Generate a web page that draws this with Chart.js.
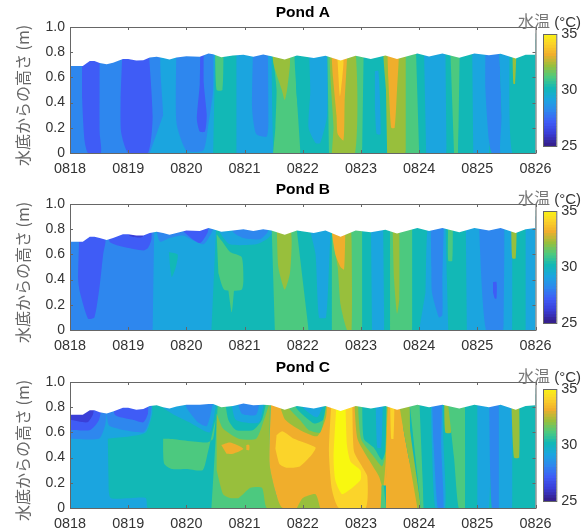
<!DOCTYPE html>
<html>
<head>
<meta charset="utf-8">
<title>Pond water temperature</title>
<script src="https://cdn.jsdelivr.net/npm/chart.js@4"></script>
<style>
    body { margin: 0; background: #fff; }
    canvas, .unit { position: absolute; }
    .unit { left: 518px; white-space: nowrap; color: #333; font: 15px "Liberation Sans", Arial, sans-serif; line-height: 18px; }
    .unit span { color: #777; font: 16px "Noto Sans CJK JP", sans-serif; line-height: 18px; }
</style>
</head>
<body>
<canvas id="mapA" width="565" height="175" style="left:0;top:0"></canvas>
<canvas id="mapB" width="565" height="175" style="left:0;top:177px"></canvas>
<canvas id="mapC" width="565" height="175" style="left:0;top:355px"></canvas>
<canvas id="barA" width="78" height="162" style="left:505px;top:0"></canvas>
<canvas id="barB" width="78" height="162" style="left:505px;top:177px"></canvas>
<canvas id="barC" width="78" height="162" style="left:505px;top:355px"></canvas>
<div class="unit" style="top:11px"><span>水温</span> (°C)</div>
<div class="unit" style="top:188px"><span>水温</span> (°C)</div>
<div class="unit" style="top:366px"><span>水温</span> (°C)</div>
<script>
// Tick labels
const dayLabels = ['0818', '0819', '0820', '0821', '0822', '0823', '0824', '0825', '0826'];
const heightLabels = { 0: '0', 0.2: '0.2', 0.4: '0.4', 0.6: '0.6', 0.8: '0.8', 1: '1.0' };
// One colour per degree, 25 to 35
const scaleColors = ['#35208f', '#3a3fd8', '#3f5cf6', '#2e87ee', '#1ba5df', '#12b8b6', '#4cc97f', '#98bf3c', '#f0ae2c', '#fbd42a', '#f8f810'];

// Water surface height (m), sampled at the same days for every pond
const surfaceDays = [0, .22, .34, .42, .51, .63, .74, .91, 1, 1.14, 1.26, 1.37, 1.49, 1.6, 1.71, 1.83, 2, 2.23, 2.38, 2.46, 2.6, 2.8, 2.98, 3.15, 3.32, 3.46, 3.69, 3.9, 4.19, 4.39, 4.65, 4.91, 5.17, 5.42, 5.62, 5.97, 6.17, 6.4, 6.69, 6.95, 7.2, 7.4, 7.66, 7.83, 8];
const surfaceA = [.69, .69, .73, .73, .715, .705, .716, .747, .747, .734, .737, .758, .763, .753, .742, .758, .768, .763, .79, .784, .76, .774, .779, .763, .782, .768, .742, .774, .753, .771, .734, .771, .747, .774, .747, .789, .766, .789, .755, .789, .776, .787, .75, .779, .779];
const surfaceB = [.7, .7, .74, .74, .73, .715, .73, .76, .76, .75, .75, .77, .78, .77, .755, .77, .79, .785, .81, .8, .78, .79, .8, .785, .8, .79, .755, .79, .77, .79, .74, .79, .775, .795, .765, .81, .785, .81, .775, .81, .79, .81, .77, .8, .81];
const surfaceC = [.74, .74, .775, .775, .76, .75, .765, .795, .795, .78, .785, .81, .815, .8, .79, .805, .82, .82, .825, .825, .8, .81, .83, .815, .82, .815, .78, .81, .79, .81, .77, .81, .79, .81, .78, .82, .8, .82, .79, .82, .8, .82, .78, .81, .815];

// Temperature bands: [degrees, [day, height, day, height, ...]], later ones lie on top
const bandsA = [
    [30, [0, 0, 8, 0, 8, .95, 0, .95]],
    [28, [0, 0, 1.6, 0, 1.6, .9, 0, .9]],
    [27, [.21, .9, .21, .42, .25, .1, .31, 0, .53, 0, .51, .16, .51, .9]],
    [27, [.91, .9, .87, .42, .88, .16, 1, 0, 1.34, 0, 1.42, .29, 1.34, .9]],
    [29, [1.37, 0, 2.55, 0, 2.55, .9, 1.6, .9, 1.6, .3]],
    [28, [1.83, .9, 1.83, .24, 2, .02, 2.29, .02, 2.37, .2, 2.46, .5, 2.46, .9]],
    [27, [2.24, .9, 2.23, .55, 2.18, .27, 2.23, .17, 2.32, .17, 2.35, .3, 2.3, .55, 2.3, .9]],
    [30, [2.46, 0, 2.88, 0, 2.88, .9, 2.5, .9]],
    [31, [2.49, .9, 2.52, .5, 2.62, .5, 2.64, .9]],
    [29, [2.86, 0, 3.5, 0, 3.46, .9, 2.86, .9]],
    [28, [3.15, .9, 3.13, .35, 3.2, .15, 3.38, .13, 3.41, .25, 3.4, .9]],
    [30, [3.46, .9, 3.5, 0, 3.6, 0, 3.6, .9]],
    [31, [3.49, 0, 3.96, 0, 3.89, .5, 3.89, .9, 3.5, .9, 3.55, .5, 3.53, .2]],
    [32, [3.46, .9, 3.5, .7, 3.64, .5, 3.69, .42, 3.73, .5, 3.78, .7, 3.78, .9]],
    [30, [3.96, 0, 4.5, 0, 4.48, .9, 3.89, .9, 3.89, .5]],
    [29, [4.1, .9, 4.13, .5, 4.1, .2, 4.22, .08, 4.3, .08, 4.42, .3, 4.42, .9]],
    [31, [4.45, 0, 5.05, 0, 5.05, .9, 4.42, .9]],
    [32, [4.5, 0, 4.9, 0, 4.88, .9, 4.48, .9, 4.53, .2]],
    [33, [4.48, .9, 4.52, .6, 4.58, .3, 4.6, .15, 4.7, .1, 4.72, .4, 4.76, .75, 4.76, .9]],
    [34, [4.58, .9, 4.6, .72, 4.64, .45, 4.68, .6, 4.7, .72, 4.68, .9]],
    [30, [5.02, 0, 5.45, 0, 5.42, .9, 5.05, .9]],
    [29, [5.24, .65, 5.3, .65, 5.34, .15, 5.27, .15, 5.24, .36]],
    [32, [5.45, 0, 5.77, 0, 5.77, .9, 5.4, .9, 5.43, .5]],
    [33, [5.45, .9, 5.47, .6, 5.52, .2, 5.58, .2, 5.62, .5, 5.65, .75, 5.65, .9]],
    [31, [5.77, 0, 6, 0, 5.94, .9, 5.77, .9]],
    [30, [6, 0, 6.12, 0, 6.08, .9, 5.94, .9]],
    [29, [6.12, 0, 6.47, 0, 6.45, .9, 6.08, .9]],
    [30, [6.47, 0, 6.6, 0, 6.55, .9, 6.45, .9]],
    [31, [6.6, 0, 6.67, 0, 6.7, .9, 6.53, .9]],
    [30, [6.67, 0, 6.93, 0, 6.91, .9, 6.7, .9]],
    [29, [6.93, 0, 7.2, 0, 7.14, .9, 6.91, .9]],
    [28, [7.14, .9, 7.14, .5, 7.2, .1, 7.25, 0, 7.4, 0, 7.42, .3, 7.37, .9]],
    [29, [7.37, .9, 7.42, .3, 7.4, 0, 7.6, 0, 7.55, .9]],
    [30, [7.55, .9, 7.6, 0, 8, 0, 8, .9]],
    [32, [7.6, .9, 7.62, .55, 7.65, .55, 7.68, .9]]
];

const bandsB = [
    [30, [0, 0, 8, 0, 8, .95, 0, .95]],
    [28, [0, 0, 1.42, 0, 1.45, .9, 0, .9]],
    [27, [.17, .9, .14, .4, .17, .3, .31, .09, .42, .1, .51, .35, .57, .6, .61, .7, .61, .9]],
    [27, [.68, .9, .68, .7, .91, .66, 1.26, .63, 1.34, .65, 1.4, .72, 1.4, .9]],
    [26, [1, .9, 1.02, .75, 1.25, .74, 1.27, .9]],
    [29, [1.42, 0, 2.5, 0, 2.52, .9, 1.45, .9]],
    [28, [1.49, .9, 1.49, .78, 1.55, .7, 1.71, .73, 1.94, .75, 2.29, .68, 2.46, .8, 2.46, .9]],
    [27, [1.94, .9, 1.94, .79, 2.23, .69, 2.37, .78, 2.37, .9]],
    [30, [1.7, .62, 1.85, .6, 1.82, .5, 1.75, .42, 1.72, .5]],
    [30, [2.43, 0, 3.52, 0, 3.46, .9, 2.52, .9]],
    [29, [2.57, .9, 2.57, .78, 2.75, .68, 3.2, .68, 3.38, .72, 3.49, .78, 3.49, .9]],
    [28, [2.8, .9, 2.8, .78, 2.98, .73, 3.26, .72, 3.4, .78, 3.4, .9]],
    [31, [2.52, .76, 2.62, .7, 2.75, .62, 2.95, .58, 2.98, .4, 2.95, .32, 2.65, .32, 2.55, .45]],
    [31, [2.72, .32, 2.78, .14, 2.82, .32]],
    [31, [3.52, 0, 4.1, 0, 3.87, .9, 3.46, .9]],
    [32, [3.55, .9, 3.58, .5, 3.69, .32, 3.78, .45, 3.81, .7, 3.78, .9]],
    [30, [4.1, 0, 4.5, 0, 4.5, .9, 3.87, .9]],
    [29, [4.07, .9, 4.13, .78, 4.22, .6, 4.28, .1, 4.4, .1, 4.46, .6, 4.48, .8, 4.48, .9]],
    [31, [4.5, 0, 5.02, 0, 5.02, .9, 4.5, .9]],
    [32, [4.5, .9, 4.5, .8, 4.6, .5, 4.65, .2, 4.76, 0, 4.84, 0, 4.84, .7, 4.82, .9]],
    [33, [4.5, .9, 4.5, .78, 4.56, .6, 4.65, .5, 4.71, .48, 4.73, .75, 4.73, .9]],
    [30, [5.02, 0, 5.19, 0, 5.19, .9, 5.02, .9]],
    [29, [5.19, 0, 5.4, 0, 5.38, .9, 5.17, .9]],
    [30, [5.4, 0, 5.5, 0, 5.5, .9, 5.38, .9]],
    [31, [5.5, 0, 5.88, 0, 5.88, .9, 5.5, .9]],
    [32, [5.54, .9, 5.57, .4, 5.62, .13, 5.66, .25, 5.66, .9]],
    [30, [5.88, 0, 6.55, 0, 6.55, .9, 5.88, .9]],
    [29, [6, 0, 6.54, 0, 6.48, .4, 6.45, .9, 6.17, .9, 6.11, .3]],
    [28, [6.2, .9, 6.21, .5, 6.22, .3, 6.34, .1, 6.4, .12, 6.4, .4, 6.43, .9]],
    [30, [6.5, 0, 6.82, 0, 6.8, .9, 6.45, .9]],
    [31, [6.5, .9, 6.5, .55, 6.57, .55, 6.58, .9]],
    [29, [6.82, 0, 7.15, 0, 7.02, .9, 6.8, .9]],
    [28, [7.02, .9, 7.15, 0, 7.45, 0, 7.47, .9]],
    [27, [7.27, .38, 7.33, .38, 7.33, .25, 7.3, .25, 7.27, .3]],
    [29, [7.45, 0, 7.6, 0, 7.6, .9, 7.47, .9]],
    [30, [7.6, 0, 7.83, 0, 7.83, .9, 7.6, .9]],
    [32, [7.58, .9, 7.6, .57, 7.66, .57, 7.68, .9]],
    [29, [7.83, 0, 8, 0, 8, .9, 7.83, .9]]
];

const bandsC = [
    [30, [0, 0, 8, 0, 8, .95, 0, .95]],
    [29, [0, 0, 1.34, 0, 1.34, .9, 0, .9]],
    [28, [0, .55, .5, .55, .6, .65, .63, .75, .63, .9, 0, .9]],
    [27, [0, .62, .35, .62, .5, .7, .55, .9, 0, .9]],
    [26, [0, .7, .3, .68, .4, .75, .4, .9, 0, .9]],
    [30, [.65, .55, 1.3, .6, 1.45, .82, 1.5, .9, 2.55, .9, 2.43, 0, 1.34, 0, 1.3, .08, .7, .08, .66, .25]],
    [28, [.63, .9, .63, .75, .68, .65, 1.26, .6, 1.37, .7, 1.43, .9]],
    [27, [.77, .9, .77, .74, 1.08, .7, 1.26, .68, 1.34, .75, 1.34, .9]],
    [29, [1.55, .9, 1.55, .82, 1.75, .75, 2.05, .68, 2.4, .6, 2.5, .8, 2.5, .9]],
    [28, [2, .9, 2, .8, 2.2, .68, 2.35, .65, 2.45, .82, 2.45, .9]],
    [31, [1.6, .55, 1.7, .55, 2.35, .52, 2.46, .55, 2.5, .7, 2.35, .4, 2.28, .3, 2, .31, 1.75, .31, 1.62, .35, 1.6, .45]],
    [31, [2.43, 0, 3.45, 0, 3.45, .9, 2.55, .9]],
    [32, [2.52, .75, 2.63, .63, 2.9, .55, 3.2, .55, 3.35, .72, 3.43, .82, 3.43, .35, 3.55, .1, 3.66, 0, 3.38, 0, 3.3, .16, 3.1, .16, 2.9, .08, 2.75, .08, 2.63, .11, 2.52, .3]],
    [30, [2.65, .9, 2.72, .7, 2.85, .62, 3.15, .62, 3.3, .7, 3.4, .9]],
    [29, [2.75, .9, 2.85, .7, 3.25, .68, 3.35, .9]],
    [28, [2.85, .9, 2.95, .75, 3.2, .74, 3.28, .9]],
    [33, [2.6, .5, 2.75, .52, 2.98, .47, 2.8, .43, 2.69, .43]],
    [33, [3.03, .5, 3.08, .5, 3.08, .46, 3.03, .46]],
    [33, [3.46, .9, 3.43, .35, 3.55, .1, 3.66, 0, 5.34, 0, 5.36, .18, 5.43, .18, 5.5, .9]],
    [32, [3.9, 0, 4, .08, 4.22, .11, 4.3, 0]],
    [34, [3.55, .58, 3.65, .61, 3.85, .55, 4.22, .48, 4.15, .42, 3.95, .33, 3.72, .32, 3.6, .35, 3.53, .47]],
    [32, [3.55, .9, 3.6, .82, 3.7, .7, 3.95, .62, 4.25, .57, 4.4, .72, 4.42, .9]],
    [31, [3.7, .9, 3.75, .8, 3.95, .7, 4.1, .62, 4.3, .6, 4.4, .8, 4.42, .9]],
    [30, [3.85, .9, 3.88, .8, 4.05, .72, 4.2, .67, 4.35, .7, 4.42, .9]],
    [29, [3.98, .9, 4, .8, 4.25, .72, 4.42, .9]],
    [34, [4.5, .9, 4.45, .45, 4.5, .15, 4.62, 0, 5.08, 0, 5.11, .25, 5.02, .33, 4.88, .45, 4.85, .9]],
    [35, [4.59, .9, 4.53, .4, 4.56, .22, 4.68, .11, 4.99, .22, 4.99, .3, 4.82, .37, 4.76, .5, 4.73, .9]],
    [32, [4.88, .9, 4.94, .55, 5.14, .38, 5.31, .25, 5.36, .18, 5.39, .18, 5.43, .4, 5.48, .9]],
    [31, [4.94, .9, 5, .55, 5.2, .42, 5.36, .33, 5.41, .4, 5.45, .9]],
    [30, [5.02, .9, 5.05, .55, 5.22, .48, 5.36, .38, 5.42, .45, 5.44, .9]],
    [29, [5.25, .9, 5.28, .48, 5.35, .48, 5.38, .9]],
    [31, [5.34, 0, 5.36, .18, 5.39, .18, 5.43, 0]],
    [33, [5.43, 0, 5.97, 0, 5.82, .4, 5.74, .6, 5.65, .9, 5.48, .9, 5.43, .18]],
    [34, [5.5, .9, 5.52, .55, 5.56, .55, 5.58, .9]],
    [32, [5.97, 0, 6.03, 0, 5.85, .6, 5.82, .9, 5.65, .9, 5.74, .6, 5.82, .4]],
    [31, [6.03, 0, 6.08, 0, 6, .9, 5.82, .9]],
    [30, [6.08, 0, 6.8, 0, 6.8, .9, 6, .9]],
    [29, [6.2, .9, 6.22, .5, 6.28, 0, 6.45, 0, 6.42, .5, 6.4, .9]],
    [28, [6.22, .9, 6.25, .5, 6.32, 0, 6.42, 0, 6.38, .5, 6.4, .9]],
    [32, [6.43, .9, 6.45, .6, 6.55, .6, 6.57, .9]],
    [31, [6.48, .9, 6.6, .4, 6.68, 0, 6.79, 0, 6.79, .9]],
    [30, [6.79, 0, 7, 0, 7, .9, 6.79, .9]],
    [29, [7, 0, 7.2, 0, 7.2, .9, 7, .9]],
    [28, [7.2, .9, 7.25, 0, 7.4, 0, 7.37, .9]],
    [29, [7.37, 0, 7.6, 0, 7.6, .9, 7.37, .9]],
    [30, [7.6, 0, 8, 0, 8, .9, 7.6, .9]],
    [32, [7.58, .9, 7.63, .4, 7.72, .4, 7.72, .9]]
];

const tickColor = '#333';
const frameColor = '#666';
const tickFont = { family: '"Liberation Sans", Arial, sans-serif', size: 14.4 };
const cjkFont = '"Noto Sans CJK JP", "Liberation Sans", sans-serif';

function tempColor(temp) {
    const low = Math.min(Math.floor(temp), 34) - 25;
    const mix = temp - 25 - low;
    const parts = [scaleColors[low], scaleColors[low + 1]].map(c => [1, 3, 5].map(i => parseInt(c.substr(i, 2), 16)));
    const rgb = parts[0].map((v, i) => Math.round(v + (parts[1][i] - v) * mix));
    return `rgb(${rgb.join(',')})`;
}

function toPoints(flat) {
    const points = [];
    for (let i = 0; i < flat.length; i += 2) {
        points.push({ x: flat[i], y: flat[i + 1] });
    }
    return points;
}

// Axes are drawn Matlab style: closed box, short ticks pointing inward
const boxTicks = {
    id: 'boxTicks',
    afterDatasetsDraw(chart) {
        const { ctx, chartArea: a, scales } = chart;
        ctx.save();
        ctx.strokeStyle = frameColor;
        ctx.lineWidth = 1;
        ctx.beginPath();
        if (scales.x.options.display) {
            scales.x.ticks.forEach(t => {
                const x = Math.round(scales.x.getPixelForValue(t.value)) + 0.5;
                ctx.moveTo(x, a.top); ctx.lineTo(x, a.top + 3);
                ctx.moveTo(x, a.bottom); ctx.lineTo(x, a.bottom - 3);
            });
            scales.y.ticks.forEach(t => {
                const y = Math.round(scales.y.getPixelForValue(t.value)) + 0.5;
                ctx.moveTo(a.left, y); ctx.lineTo(a.left + 3, y);
                ctx.moveTo(a.right, y); ctx.lineTo(a.right - 3, y);
            });
        }
        ctx.stroke();
        ctx.strokeRect(a.left + 0.5, a.top + 0.5, a.right - a.left, a.bottom - a.top);
        ctx.restore();
    }
};

function drawMap(id, title, bands, surface) {
    const datasets = [{
        data: surfaceDays.map((d, i) => ({ x: d, y: surface[i] })),
        backgroundColor: '#fff',
        fill: 'end',
        order: 0
    }];
    bands.forEach((band, i) => {
        datasets.push({
            data: toPoints(band[1]),
            backgroundColor: tempColor(band[0]),
            fill: 'shape',
            tension: 0.2,
            order: bands.length - i
        });
    });
    new Chart(document.getElementById(id), {
        type: 'line',
        data: { datasets },
        plugins: [boxTicks],
        options: {
            responsive: false,
            animation: false,
            elements: { point: { radius: 0 }, line: { borderWidth: 0 } },
            layout: { padding: { right: 29.5 } },
            plugins: {
                legend: { display: false },
                tooltip: { enabled: false },
                title: {
                    display: true,
                    text: title,
                    color: '#000',
                    fullSize: false,
                    font: { family: tickFont.family, size: 15.5, weight: 'bold', lineHeight: 1 },
                    padding: { top: 5, bottom: 6.5 }
                }
            },
            scales: {
                x: {
                    type: 'linear',
                    min: 0,
                    max: 8,
                    grid: { display: false, drawTicks: false },
                    border: { display: false },
                    afterFit: s => { s.height = 22; },
                    ticks: {
                        stepSize: 1,
                        autoSkip: false,
                        maxRotation: 0,
                        color: tickColor,
                        font: tickFont,
                        padding: 7,
                        callback: v => dayLabels[v]
                    }
                },
                y: {
                    min: 0,
                    max: 1,
                    grid: { display: false, drawTicks: false },
                    border: { display: false },
                    afterFit: s => { s.width = 70; },
                    title: {
                        display: true,
                        // trailing spaces nudge the rotated text down a few px
                        text: '水底からの高さ (m)\u00a0\u00a0\u00a0',
                        color: '#666',
                        font: { family: cjkFont, size: 16 },
                        padding: { top: 13, bottom: 0 }
                    },
                    ticks: {
                        stepSize: 0.2,
                        color: tickColor,
                        font: { family: tickFont.family, size: 14 },
                        padding: 5,
                        callback: v => heightLabels[Math.round(v * 10) / 10]
                    }
                }
            }
        }
    });
}

function drawColorBar(id) {
    const steps = [];
    for (let t = 25; t < 35; t += 0.25) steps.push(t);
    new Chart(document.getElementById(id), {
        type: 'bar',
        data: {
            labels: [''],
            datasets: steps.map(t => ({
                data: [[t, t + 0.25]],
                backgroundColor: tempColor(t),
                barPercentage: 1,
                categoryPercentage: 1,
                grouped: false
            }))
        },
        plugins: [boxTicks],
        options: {
            responsive: false,
            animation: false,
            layout: { padding: { left: 38, top: 34, bottom: 16 } },
            plugins: {
                legend: { display: false },
                tooltip: { enabled: false }
            },
            scales: {
                x: { display: false },
                y: {
                    position: 'right',
                    min: 25,
                    max: 35,
                    grid: { display: false, drawTicks: false },
                    border: { display: false },
                    afterFit: s => { s.width = 26.7; },
                    ticks: {
                        stepSize: 5,
                        color: tickColor,
                        font: tickFont,
                        padding: 5
                    }
                }
            }
        }
    });
}

drawMap('mapA', 'Pond A', bandsA, surfaceA);
drawMap('mapB', 'Pond B', bandsB, surfaceB);
drawMap('mapC', 'Pond C', bandsC, surfaceC);
drawColorBar('barA');
drawColorBar('barB');
drawColorBar('barC');
</script>
</body>
</html>
